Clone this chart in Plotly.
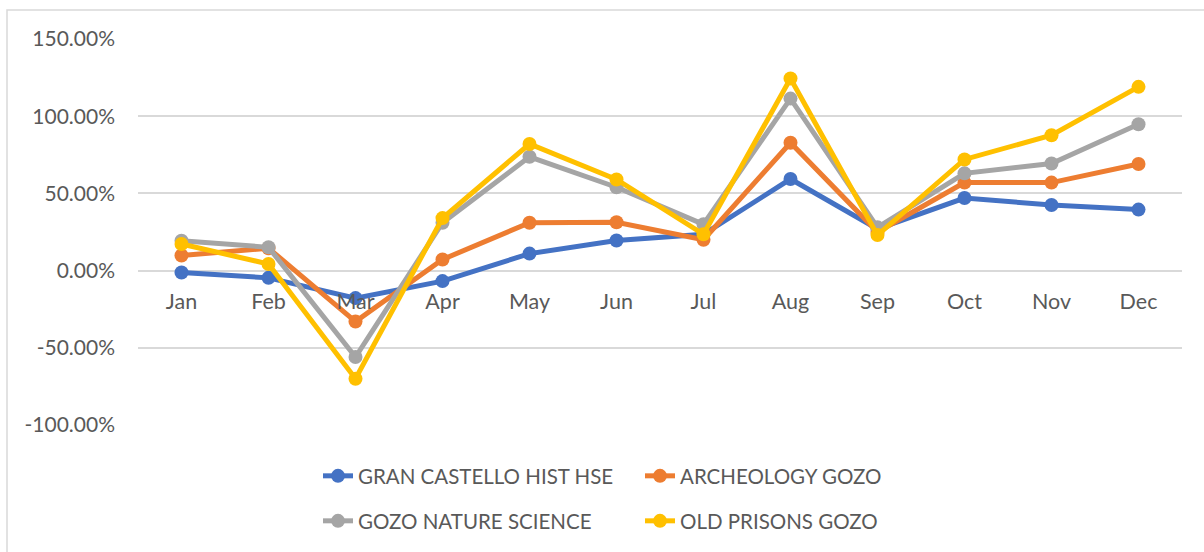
import plotly.graph_objects as go

months = ["Jan", "Feb", "Mar", "Apr", "May", "Jun", "Jul", "Aug", "Sep", "Oct", "Nov", "Dec"]
gran_castello = [-1.2, -4.7, -17.8, -6.8, 11.0, 19.5, 23.5, 59.3, 27.0, 47.0, 42.5, 39.5]
archeology = [9.8, 14.5, -33.0, 7.2, 31.0, 31.3, 20.0, 82.8, 25.0, 57.0, 57.0, 69.0]
nature_science = [19.4, 15.1, -56.0, 31.0, 73.7, 54.0, 30.0, 111.4, 28.0, 63.0, 69.4, 94.8]
old_prisons = [17.2, 4.3, -70.0, 34.0, 82.0, 59.0, 23.5, 124.4, 23.0, 72.0, 87.7, 119.0]

y_tick_vals = [-100, -50, 0, 50, 100, 150]
y_tick_text = ["-100.00%", "-50.00%", "0.00%", "50.00%", "100.00%", "150.00%"]

series = [
    ("GRAN CASTELLO HIST HSE", gran_castello, "#4472C4", "legend"),
    ("ARCHEOLOGY GOZO", archeology, "#ED7D31", "legend"),
    ("GOZO NATURE SCIENCE", nature_science, "#A5A5A5", "legend2"),
    ("OLD PRISONS GOZO", old_prisons, "#FFC000", "legend2"),
]

FONT = "Lato"
TXT = "#595959"

fig = go.Figure()
for name, vals, color, lg in series:
    fig.add_trace(go.Scatter(
        x=months, y=vals, name=name, mode="lines+markers",
        line=dict(color=color, width=5),
        marker=dict(color=color, size=14),
        legend=lg,
    ))

W, H = 1204, 552
L, R, T, B = 138, 1182, 39, 425
pw, ph = R - L, B - T

def px_x(x):
    return (x - L) / pw

def px_y(y):
    return (B - y) / ph

legend_common = dict(
    orientation="h", xanchor="left", yanchor="middle",
    font=dict(family=FONT, size=20.5, color=TXT),
    entrywidth=277, entrywidthmode="pixels",
    bgcolor="rgba(0,0,0,0)", borderwidth=0,
)

fig.update_layout(
    width=W, height=H,
    margin=dict(l=L, r=W - R, t=T, b=H - B, pad=0, autoexpand=False),
    paper_bgcolor="white", plot_bgcolor="white",
    font=dict(family=FONT, size=21, color=TXT),
    xaxis=dict(
        type="category", range=[-0.5, 11.5],
        anchor="free", position=100 / 250,
        showgrid=False, zeroline=False, showline=False,
        ticks="", tickfont=dict(family=FONT, size=21.5, color=TXT),
        ticklabelstandoff=16,
    ),
    yaxis=dict(
        range=[-100, 150], tickvals=y_tick_vals, ticktext=y_tick_text,
        showgrid=True, gridcolor="#D9D9D9", gridwidth=1.5,
        zeroline=False, showline=False, ticks="",
        tickfont=dict(family=FONT, size=21, color=TXT),
        ticklabelstandoff=22,
    ),
    legend=dict(x=px_x(318), y=px_y(476), **legend_common),
    legend2=dict(x=px_x(318), y=px_y(521), **legend_common),
    showlegend=True,
    shapes=[dict(
        type="rect", xref="paper", yref="paper",
        x0=px_x(7), x1=px_x(1215), y0=px_y(565), y1=px_y(10),
        line=dict(color="#D9D9D9", width=1.5), fillcolor="rgba(0,0,0,0)",
        layer="below",
    )],
)

fig.write_html("out.html", config={"displayModeBar": False},
               post_script="document.body.style.margin='0';")
